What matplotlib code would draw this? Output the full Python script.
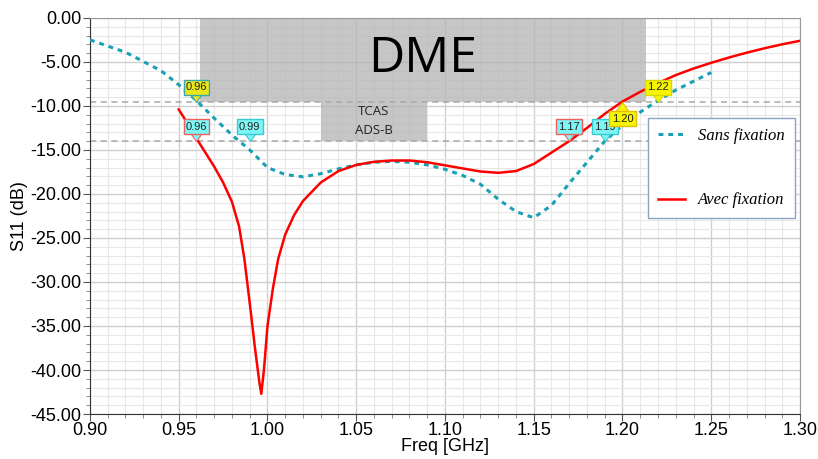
import matplotlib
matplotlib.use("Agg")
import matplotlib.pyplot as plt
from matplotlib.ticker import MultipleLocator, FormatStrFormatter

# -------------------------------
# DATA
# -------------------------------
freq_sans = [0.90, 0.92, 0.94, 0.95, 0.96, 0.97, 0.98, 0.99, 1.00, 1.01,
             1.02, 1.03, 1.04, 1.05, 1.06, 1.07, 1.08, 1.09, 1.10, 1.11,
             1.12, 1.13, 1.14, 1.15, 1.16, 1.17, 1.18, 1.19, 1.20, 1.21,
             1.22, 1.23, 1.24, 1.25]
s11_sans = [-2.5, -3.9, -6.0, -7.6, -9.4, -11.4, -13.3, -15.0, -17.0, -17.8,
            -18.05, -17.7, -17.15, -16.7, -16.4, -16.3, -16.4, -16.7, -17.2, -17.9,
            -18.9, -20.6, -22.0, -22.7, -21.3, -18.8, -16.4, -14.0, -12.2, -10.7,
            -9.4, -8.2, -7.2, -6.2]

freq_avec = [0.950, 0.955, 0.960, 0.965, 0.970, 0.975, 0.980, 0.984, 0.987, 0.990,
             0.993, 0.9955, 0.9965, 0.998, 1.000, 1.003, 1.006, 1.010, 1.015, 1.020,
             1.030, 1.040, 1.050, 1.060, 1.070, 1.080, 1.090, 1.100, 1.110, 1.120,
             1.130, 1.140, 1.150, 1.160, 1.170, 1.180, 1.190, 1.200, 1.210, 1.220,
             1.230, 1.240, 1.250, 1.260, 1.270, 1.280, 1.290, 1.300]
s11_avec = [-10.4, -12.0, -13.7, -15.3, -16.9, -18.7, -20.9, -23.7, -27.4, -32.4,
            -37.6, -41.5, -42.7, -40.0, -35.0, -30.8, -27.4, -24.6, -22.4, -20.8,
            -18.7, -17.4, -16.7, -16.35, -16.2, -16.2, -16.4, -16.75, -17.1, -17.45,
            -17.6, -17.4, -16.6, -15.3, -14.0, -12.5, -10.9, -9.5, -8.4, -7.4,
            -6.5, -5.75, -5.1, -4.5, -3.95, -3.45, -3.0, -2.6]

# reference levels (dB) and bands (GHz)
level_dme = -9.54
level_tcas = -14.0
dme_band = (0.962, 1.213)
tcas_band = (1.030, 1.090)

# marker flags: x, y, label, face, edge, pointing up?
mark_x = [0.96, 0.96, 0.99, 1.17, 1.19, 1.20, 1.22]
mark_y = [level_dme, level_tcas, level_tcas, level_tcas, level_tcas, level_dme, level_dme]
mark_lbl = ["0.96", "0.96", "0.99", "1.17", "1.19", "1.20", "1.22"]
mark_face = ["#e8e81a", "#7ff6f6", "#7ff6f6", "#7ff6f6", "#7ff6f6", "#f6f600", "#f6f600"]
mark_edge = ["#3aa6b0", "#f06060", "#3cc8d0", "#f06060", "#3cc8d0", "#e0c000", "#d8d800"]
mark_up = [False, False, False, False, False, True, False]

CYAN = "#1aa0b4"
RED = "#ff0000"

plt.rcParams["font.family"] = ["Liberation Sans", "DejaVu Sans"]

fig = plt.figure(figsize=(8.18, 4.59), dpi=100)
ax = fig.add_axes([0.110, 0.098, 0.868, 0.863])

# bands
ax.fill_between(dme_band, level_dme, 0, color="#b4b4b4", alpha=0.75, lw=0, zorder=1)
ax.fill_between(tcas_band, level_tcas, level_dme, color="#b4b4b4", alpha=0.75, lw=0, zorder=1)
ax.axhline(level_dme, color="#a8a8a8", ls=(0, (4, 3)), lw=1.1, zorder=2)
ax.axhline(level_tcas, color="#a8a8a8", ls=(0, (4, 3)), lw=1.1, zorder=2)

ax.text(sum(dme_band) / 2, -4.7, "DME", fontsize=36, ha="center", va="center",
        family=["Open Sans", "DejaVu Sans"], color="black", zorder=3)
ax.text(sum(tcas_band) / 2, -11.7, "TCAS\nADS-B", fontsize=9.5, ha="center", va="center",
        family=["Open Sans", "DejaVu Sans"], linespacing=1.55, color="#222222", zorder=3)

# curves
ax.plot(freq_sans, s11_sans, color=CYAN, lw=2.2, ls=(0, (1.6, 1.6)), zorder=4,
        label="Sans fixation")
ax.plot(freq_avec, s11_avec, color=RED, lw=1.8, zorder=5, label="Avec fixation")

# marker flags
tri_down = [(-1, 1.4), (1, 1.4), (0, 0), (-1, 1.4)]
tri_up = [(-1, -1.4), (1, -1.4), (0, 0), (-1, -1.4)]
for x, y, lbl, fc, ec, up in zip(mark_x, mark_y, mark_lbl, mark_face, mark_edge, mark_up):
    ax.plot([x], [y], marker=tri_up if up else tri_down, ms=17, mfc=fc, mec=ec,
            mew=0.8, ls="none", zorder=6)
    dy = -12 if up else 10.5
    ax.annotate(lbl, (x, y), xytext=(0, dy), textcoords="offset points",
                ha="center", va="center", fontsize=8, color="#222222", zorder=7,
                bbox=dict(boxstyle="square,pad=0.2", fc=fc, ec=ec, lw=1.0))

# axes, ticks, grid
ax.set_xlim(0.90, 1.30)
ax.set_ylim(-45, 0)
ax.xaxis.set_major_locator(MultipleLocator(0.05))
ax.xaxis.set_minor_locator(MultipleLocator(0.01))
ax.yaxis.set_major_locator(MultipleLocator(5))
ax.yaxis.set_minor_locator(MultipleLocator(1))
ax.xaxis.set_major_formatter(FormatStrFormatter("%.2f"))
ax.yaxis.set_major_formatter(FormatStrFormatter("%.2f"))
ax.set_axisbelow(True)
ax.grid(which="major", color="#cfcfcf", lw=1.0)
ax.grid(which="minor", color="#e8e8e8", lw=0.8)
ax.tick_params(which="major", labelsize=13, length=5, color="#555555", pad=1)
ax.tick_params(which="minor", length=3, color="#777777")
for side in ["top", "right"]:
    ax.spines[side].set_color("#999999")
for side in ["left", "bottom"]:
    ax.spines[side].set_color("#333333")

ax.set_xlabel("Freq [GHz]", fontsize=13, labelpad=-1)
ax.set_ylabel("S11 (dB)", fontsize=13, labelpad=2)

leg = ax.legend(loc="upper left", bbox_to_anchor=(0.786, 0.747), borderaxespad=0,
                frameon=True, fancybox=False, handlelength=1.6, labelspacing=2.9,
                borderpad=0.6, handletextpad=0.8,
                prop=dict(family=["Liberation Serif", "DejaVu Serif"], style="italic", size=12))
leg.get_frame().set_edgecolor("#8aa4c4")
leg.get_frame().set_linewidth(1.0)
leg.get_frame().set_alpha(1)

fig.savefig("out.png", dpi=100)
